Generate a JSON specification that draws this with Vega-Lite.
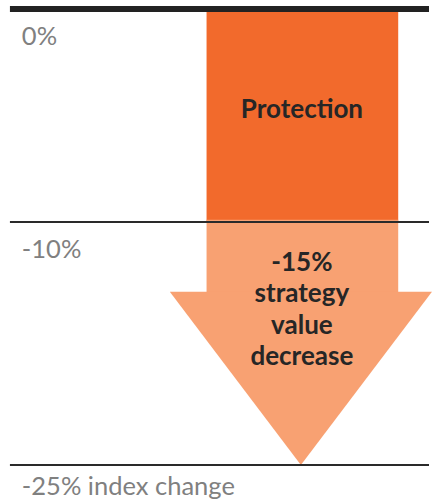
{
  "$schema": "https://vega.github.io/schema/vega-lite/v6.json",
  "width": 432,
  "height": 502,
  "autosize": {"type": "fit", "contains": "padding"},
  "padding": 0,
  "background": "white",
  "config": {"view": {"stroke": null}},
  "datasets": {
    "protection": [{"x": 208, "x2": 401, "y": 0, "y2": -10}],
    "shaft": [{"x": 208, "x2": 401, "y": -9.9, "y2": -14.35}],
    "head": [{"y": -14.3, "x": 171, "x2": 435}, {"y": -25, "x": 303, "x2": 303}],
    "thick": [{"x": 10, "x2": 432, "y": 0}],
    "thin": [{"x": 10, "x2": 432, "y": -10}, {"x": 10, "x2": 432, "y": -25}],
    "labelsTop": [{"x": 22, "y": 0, "label": "0%"}, {"x": 22, "y": -10, "label": "-10%"}],
    "labelsBottom": [{"x": 22, "y": -25, "label": "-25% index change"}],
    "inner": [{"x": 304, "y": -4.75, "label": "Protection"}, {"x": 304, "y": -12.53, "label": "-15%\nstrategy\nvalue\ndecrease"}]
  },
  "layer": [
    {
      "data": {"name": "protection"},
      "mark": {"type": "rect", "color": "#F26A2C"},
      "encoding": {
        "x": {"field": "x", "type": "quantitative", "axis": null, "scale": {"domain": [0, 432], "nice": false, "zero": false}},
        "x2": {"field": "x2"},
        "y": {"field": "y", "type": "quantitative", "axis": null, "scale": {"domain": [0, -10, -25], "range": [9, 222, 465], "nice": false, "zero": false}},
        "y2": {"field": "y2"}
      }
    },
    {
      "data": {"name": "shaft"},
      "mark": {"type": "rect", "color": "#F8A172"},
      "encoding": {
        "x": {"field": "x", "type": "quantitative"},
        "x2": {"field": "x2"},
        "y": {"field": "y", "type": "quantitative"},
        "y2": {"field": "y2"}
      }
    },
    {
      "data": {"name": "head"},
      "mark": {"type": "area", "orient": "horizontal", "color": "#F8A172", "opacity": 1},
      "encoding": {
        "y": {"field": "y", "type": "quantitative"},
        "x": {"field": "x", "type": "quantitative"},
        "x2": {"field": "x2"}
      }
    },
    {
      "data": {"name": "thick"},
      "mark": {"type": "rule", "color": "#222222", "strokeWidth": 6},
      "encoding": {
        "x": {"field": "x", "type": "quantitative"},
        "x2": {"field": "x2"},
        "y": {"field": "y", "type": "quantitative"}
      }
    },
    {
      "data": {"name": "thin"},
      "mark": {"type": "rule", "color": "#2a2a2a", "strokeWidth": 2},
      "encoding": {
        "x": {"field": "x", "type": "quantitative"},
        "x2": {"field": "x2"},
        "y": {"field": "y", "type": "quantitative"}
      }
    },
    {
      "data": {"name": "labelsTop"},
      "mark": {"type": "text", "font": "Lato", "fontSize": 25.5, "color": "#808080", "align": "left", "baseline": "alphabetic", "dy": 36},
      "encoding": {
        "x": {"field": "x", "type": "quantitative"},
        "y": {"field": "y", "type": "quantitative"},
        "text": {"field": "label"}
      }
    },
    {
      "data": {"name": "labelsBottom"},
      "mark": {"type": "text", "font": "Lato", "fontSize": 25.5, "color": "#808080", "align": "left", "baseline": "alphabetic", "dy": 30},
      "encoding": {
        "x": {"field": "x", "type": "quantitative"},
        "y": {"field": "y", "type": "quantitative"},
        "text": {"field": "label"}
      }
    },
    {
      "data": {"name": "inner"},
      "mark": {"type": "text", "font": "Lato", "fontSize": 26, "fontWeight": "bold", "color": "#262626", "align": "center", "baseline": "middle", "lineBreak": "\n", "lineHeight": 31.5},
      "encoding": {
        "x": {"field": "x", "type": "quantitative"},
        "y": {"field": "y", "type": "quantitative"},
        "text": {"field": "label"}
      }
    }
  ]
}
